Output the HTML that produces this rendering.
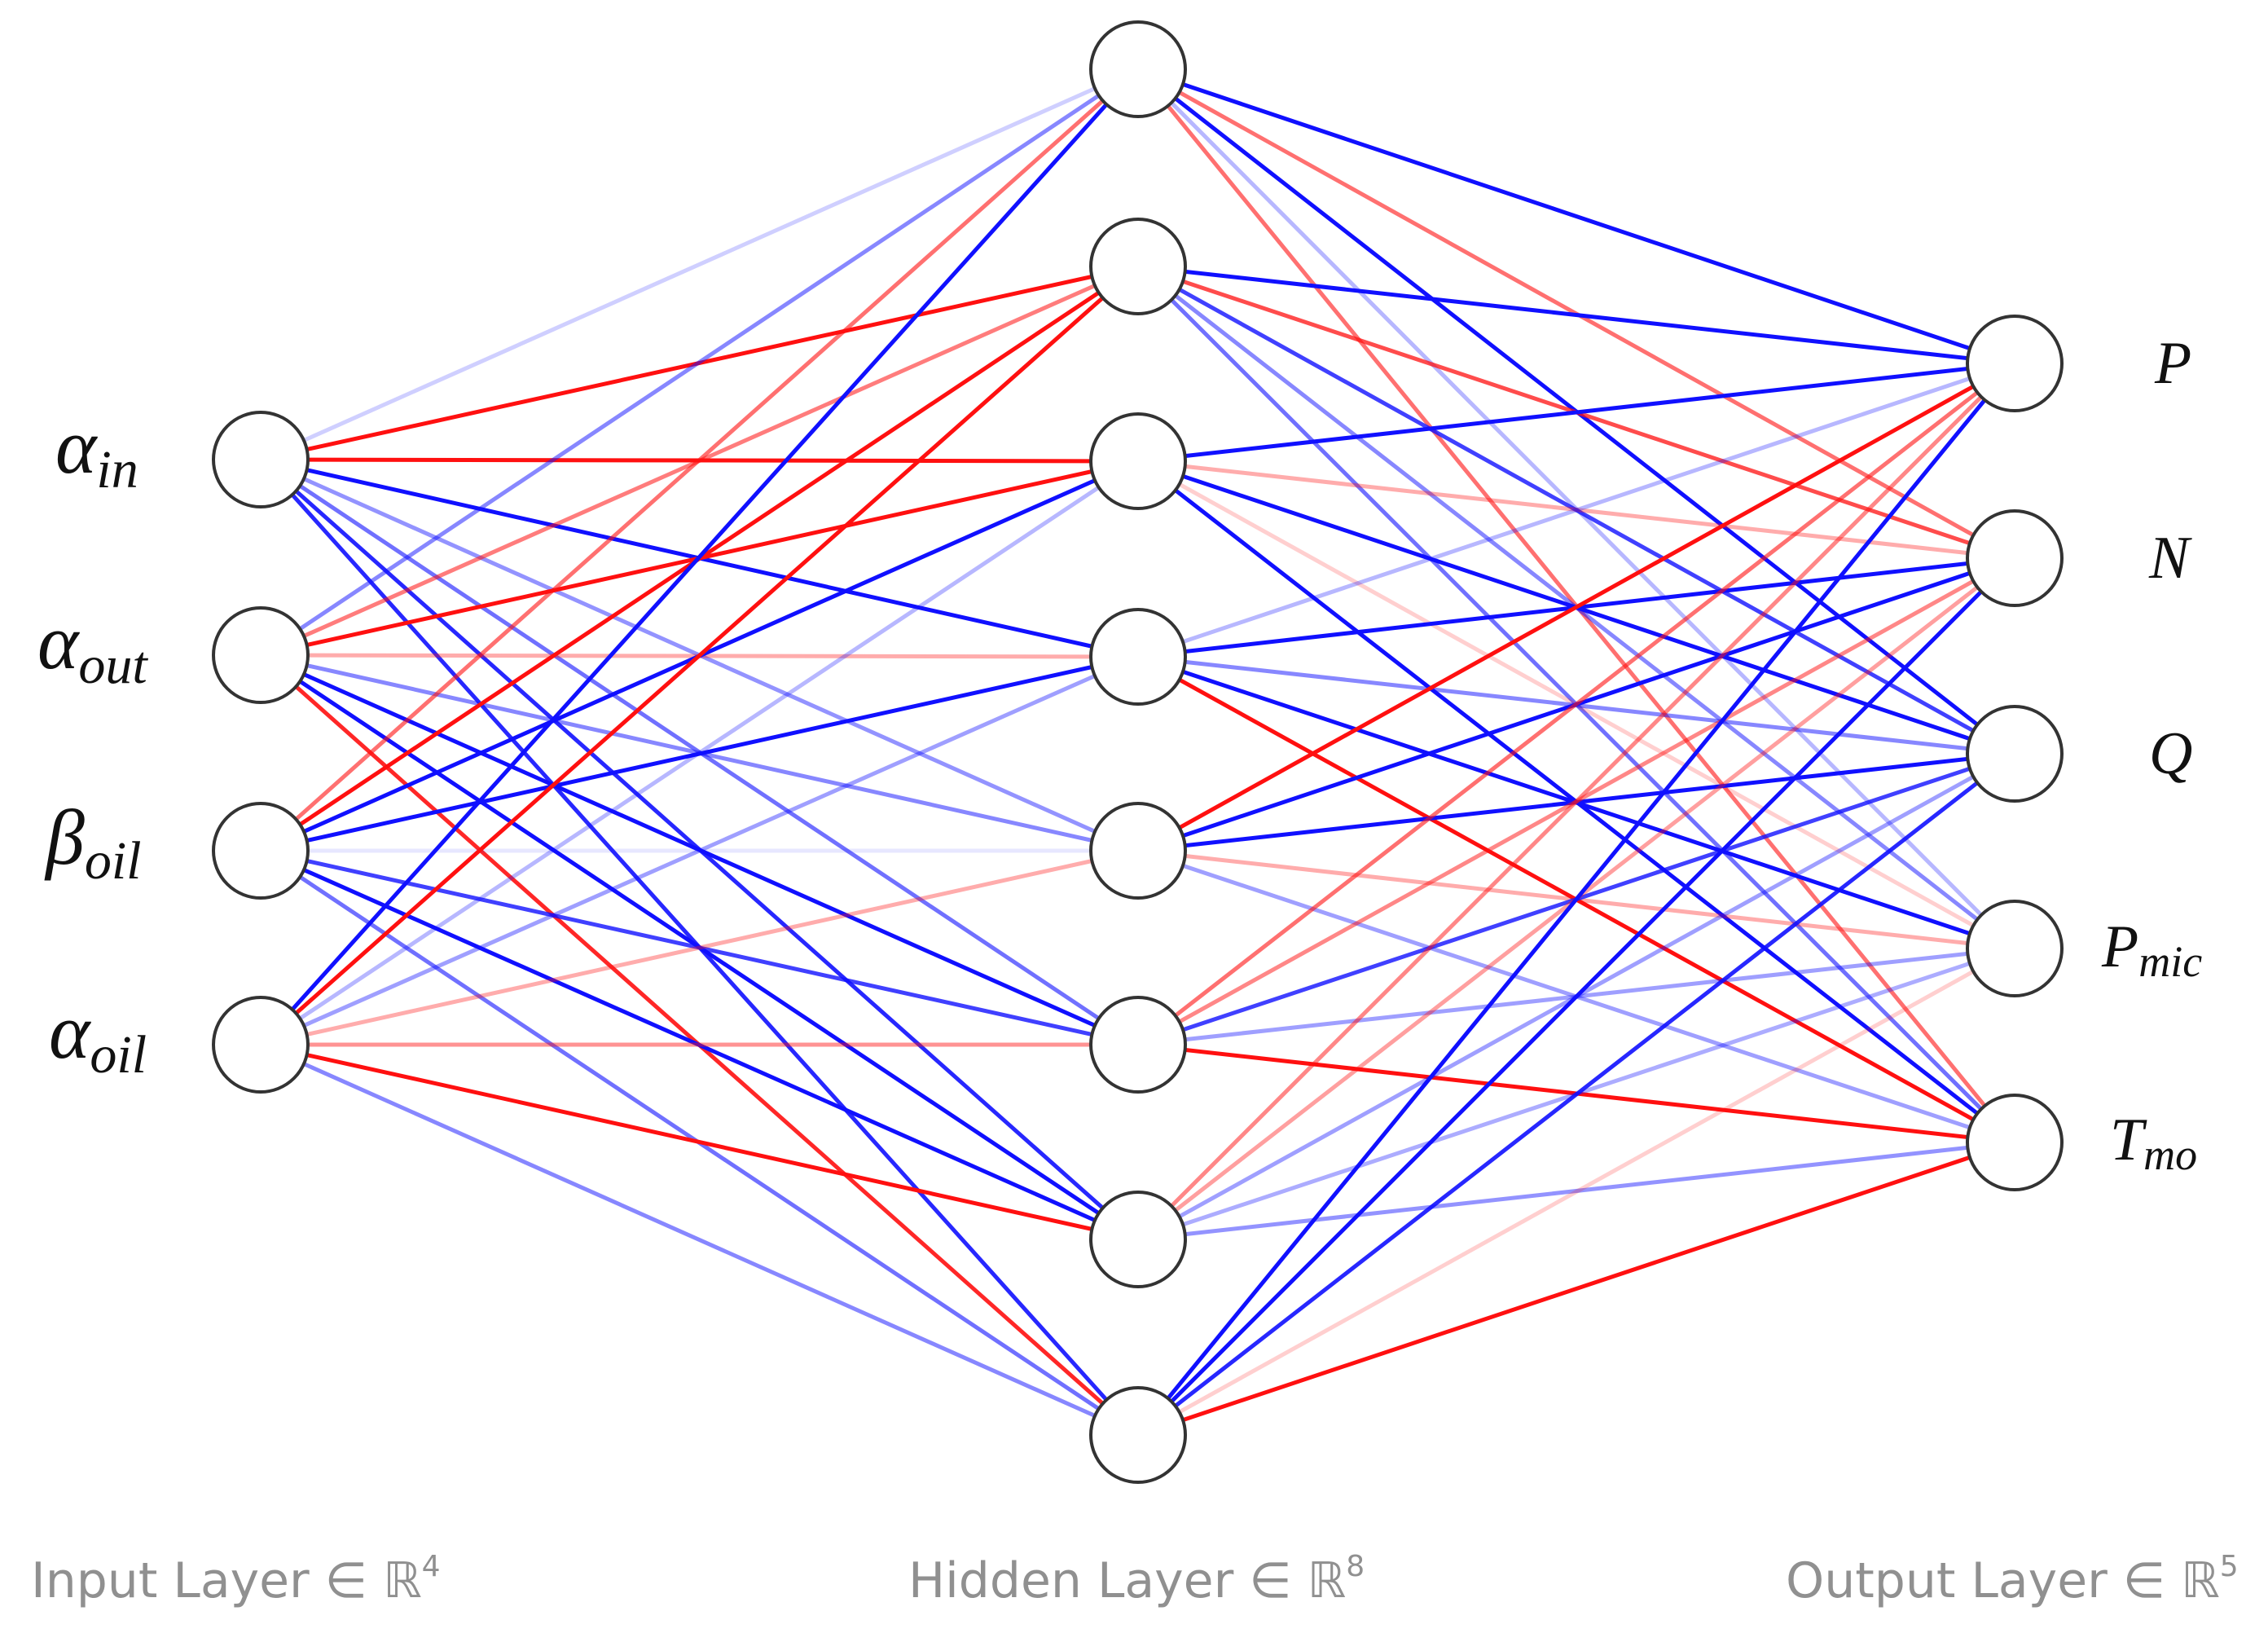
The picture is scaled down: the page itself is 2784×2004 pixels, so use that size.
<!DOCTYPE html>
<html><head><meta charset="utf-8">
<style>
html,body{margin:0;padding:0;background:#fff;}
svg{display:block;}
.lab{font-family:"Liberation Serif",serif;font-style:italic;fill:#111;}
.ax{font-family:"DejaVu Sans","Liberation Sans",sans-serif;fill:#909090;font-size:60px;}
</style></head><body>
<svg width="2784" height="2004" viewBox="0 0 2784 2004" xmlns="http://www.w3.org/2000/svg">
<g id="edges" stroke-width="5" fill="none"></g>
<g id="nodes" fill="#fff" stroke="#333" stroke-width="4"></g>
<text class="lab" x="68" y="580" font-size="96">α<tspan font-size="66" dy="18">in</tspan></text>
<text class="lab" x="46" y="820" font-size="96">α<tspan font-size="66" dy="18">out</tspan></text>
<text class="lab" x="56" y="1060" font-size="96">β<tspan font-size="66" dy="18">oil</tspan></text>
<text class="lab" x="60" y="1298" font-size="96">α<tspan font-size="66" dy="18">oil</tspan></text>
<text class="lab" x="2645" y="470" font-size="74">P</text>
<text class="lab" x="2638" y="709" font-size="74">N</text>
<text class="lab" x="2638" y="949" font-size="74">Q</text>
<text class="lab" x="2580" y="1186" font-size="74">P<tspan font-size="54" dy="12">mic</tspan></text>
<text class="lab" x="2590" y="1423" font-size="74">T<tspan font-size="54" dy="12">mo</tspan></text>
<text class="ax" x="38" y="1960">Input Layer ∈ ℝ<tspan font-size="36" dy="-26">4</tspan></text>
<text class="ax" x="1115" y="1960">Hidden Layer ∈ ℝ<tspan font-size="36" dy="-26">8</tspan></text>
<text class="ax" x="2192" y="1960">Output Layer ∈ ℝ<tspan font-size="36" dy="-26">5</tspan></text>
</svg>
<script>
var IX=320, HX=1397, OX=2473, R=58;
var IY=[564,804,1044,1282];
var HY=[85,327,566,806,1044,1282,1521,1761];
var OY=[446,685,925,1164,1402];
var W1=[
 [0.2,-1,-1,1,0.45,0.6,0.9,0.9],
 [0.5,-0.55,-1,-0.35,0.5,1,1,-0.9],
 [-0.6,-1,1,1,0.1,0.8,1,0.6],
 [1,-1,0.3,0.4,-0.35,-0.45,-1,0.5]];
var W2=[
 [1,-0.6,1,0.3,-0.6],
 [1,-0.75,0.8,0.5,0.6],
 [1,-0.35,1,-0.2,1],
 [0.3,1,0.5,1,-1],
 [-1,1,1,-0.35,0.4],
 [-0.6,-0.5,0.8,0.4,-1],
 [-0.5,-0.4,0.4,0.35,0.45],
 [1,1,0.9,-0.2,-1]];
var ns="http://www.w3.org/2000/svg";
var E=document.getElementById("edges"), N=document.getElementById("nodes");
function line(x1,y1,x2,y2,w){
 var l=document.createElementNS(ns,"line");
 l.setAttribute("x1",x1);l.setAttribute("y1",y1);l.setAttribute("x2",x2);l.setAttribute("y2",y2);
 l.setAttribute("stroke",w>0?"#1010ff":"#ff1010");
 l.setAttribute("stroke-opacity",Math.abs(w));
 E.appendChild(l);
}
for(var i=0;i<4;i++)for(var h=0;h<8;h++)line(IX,IY[i],HX,HY[h],W1[i][h]);
for(var h=0;h<8;h++)for(var o=0;o<5;o++)line(HX,HY[h],OX,OY[o],W2[h][o]);
function circ(x,y){var c=document.createElementNS(ns,"circle");c.setAttribute("cx",x);c.setAttribute("cy",y);c.setAttribute("r",R);N.appendChild(c);}
IY.forEach(function(y){circ(IX,y)});HY.forEach(function(y){circ(HX,y)});OY.forEach(function(y){circ(OX,y)});
</script>
</body></html>
